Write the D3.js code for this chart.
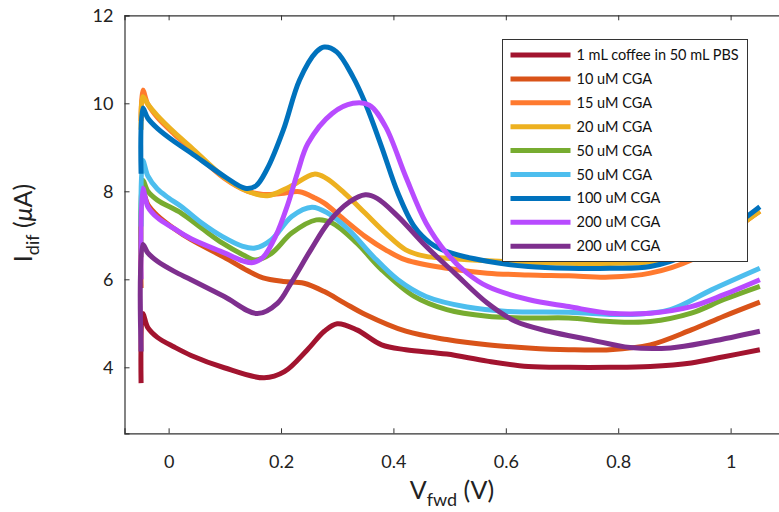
<!DOCTYPE html>
<html>
<head>
<meta charset="utf-8">
<script src="https://d3js.org/d3.v7.min.js"></script>
<style>
  body { margin: 0; background: #fff; }
  svg { display: block; font-family: Lato, "Noto Sans", sans-serif; }
  .axis text { font-size: 18px; fill: #222; font-family: Lato, "Noto Sans", sans-serif; }
  .axis path, .axis line { stroke: #333; }
</style>
</head>
<body>
<script>
// series names, colours (legend order)
var seriesNames = ["1 mL coffee in 50 mL PBS", "10 uM CGA", "15 uM CGA", "20 uM CGA",
                   "50 uM CGA", "50 uM CGA", "100 uM CGA", "200 uM CGA", "200 uM CGA"];
var seriesColors = ["#A2142F", "#D95319", "#FF7A2F", "#EDB120",
                    "#77AC30", "#4DBEEE", "#0072BD", "#B84BFF", "#7E2F8E"];

var xTicks = [0, 0.2, 0.4, 0.6, 0.8, 1];
var yTicks = [4, 6, 8, 10, 12];

// [V_fwd, I_dif]
var coffee = [[-0.049,3.64],[-0.046,5.22],[-0.037,4.9],[-0.02,4.68],[0.01,4.46],[0.04,4.27],[0.099,3.99],
  [0.17,3.76],[0.206,3.9],[0.247,4.4],[0.277,4.82],[0.3,4.99],[0.335,4.85],[0.379,4.51],
  [0.422,4.4],[0.495,4.3],[0.567,4.14],[0.64,4.02],[0.712,4.0],[0.785,4.0],[0.857,4.02],[0.93,4.1],
  [0.988,4.24],[1.052,4.4]];
var cga10 = [[-0.049,5.8],[-0.046,8.0],[-0.037,7.7],[-0.02,7.45],[0.01,7.15],[0.04,6.9],[0.099,6.5],
  [0.14,6.2],[0.168,6.03],[0.204,5.95],[0.241,5.91],[0.277,5.72],[0.313,5.46],[0.35,5.2],[0.422,4.82],
  [0.495,4.63],[0.567,4.51],[0.64,4.44],[0.712,4.4],[0.785,4.4],[0.857,4.51],[0.93,4.85],[0.988,5.16],
  [1.052,5.48]];
var cga15 = [[-0.049,9.6],[-0.046,10.3],[-0.037,9.98],[-0.02,9.68],[0.01,9.3],[0.04,8.96],[0.099,8.3],
  [0.141,8.0],[0.168,7.93],[0.2,7.95],[0.233,7.99],[0.26,7.85],[0.277,7.73],[0.313,7.35],[0.35,6.97],
  [0.386,6.67],[0.422,6.44],[0.495,6.25],[0.567,6.14],[0.64,6.1],[0.712,6.08],[0.785,6.05],[0.857,6.14],
  [0.93,6.44],[0.988,6.9],[1.03,7.35],[1.052,7.55]];
var cga20 = [[-0.049,9.4],[-0.046,10.15],[-0.037,9.98],[-0.02,9.72],[0.01,9.34],[0.04,9.0],[0.099,8.32],
  [0.141,8.0],[0.176,7.9],[0.215,8.1],[0.259,8.39],[0.28,8.3],[0.313,7.96],[0.35,7.5],[0.386,7.05],
  [0.422,6.67],[0.458,6.52],[0.495,6.48],[0.567,6.42],[0.64,6.38],[0.785,6.36],[0.857,6.4],[0.93,6.6],
  [0.988,7.0],[1.052,7.55]];
var cga50a = [[-0.049,6.5],[-0.046,8.25],[-0.037,8.0],[-0.02,7.8],[0.023,7.5],[0.059,7.16],[0.096,6.82],
  [0.132,6.56],[0.154,6.44],[0.183,6.59],[0.219,7.05],[0.263,7.35],[0.291,7.28],[0.335,6.82],[0.379,6.22],
  [0.437,5.61],[0.495,5.31],[0.567,5.16],[0.64,5.12],[0.712,5.12],[0.785,5.04],[0.857,5.04],[0.93,5.23],
  [0.988,5.54],[1.052,5.84]];
var cga50b = [[-0.049,7.2],[-0.046,8.7],[-0.037,8.35],[-0.02,8.05],[0,7.85],[0.023,7.65],[0.059,7.28],
  [0.096,6.97],[0.132,6.75],[0.154,6.71],[0.183,6.9],[0.219,7.43],[0.255,7.64],[0.284,7.5],[0.321,7.12],
  [0.364,6.52],[0.408,5.99],[0.458,5.61],[0.531,5.37],[0.603,5.27],[0.712,5.25],[0.821,5.2],[0.893,5.31],
  [0.966,5.76],[1.052,6.25]];
var cga100 = [[-0.049,8.4],[-0.046,9.89],[-0.037,9.66],[-0.02,9.43],[0.01,9.13],[0.04,8.87],[0.099,8.34],
  [0.136,8.07],[0.155,8.12],[0.175,8.5],[0.204,9.39],[0.233,10.53],[0.263,11.17],[0.277,11.28],[0.299,11.17],
  [0.328,10.6],[0.35,10.0],[0.379,9.01],[0.408,7.96],[0.437,7.2],[0.466,6.82],[0.495,6.63],[0.567,6.41],
  [0.64,6.29],[0.712,6.25],[0.785,6.25],[0.857,6.29],[0.93,6.6],[0.988,7.05],[1.052,7.65]];
var cga200a = [[-0.049,6.0],[-0.046,8.07],[-0.037,7.65],[-0.02,7.4],[0.01,7.15],[0.04,6.92],[0.099,6.6],
  [0.132,6.42],[0.15,6.38],[0.168,6.5],[0.19,6.97],[0.212,7.7],[0.23,8.45],[0.248,9.09],[0.291,9.77],
  [0.328,10.0],[0.357,9.96],[0.386,9.47],[0.422,8.33],[0.458,7.28],[0.495,6.59],[0.531,6.14],[0.567,5.84],
  [0.64,5.54],[0.712,5.38],[0.785,5.23],[0.857,5.23],[0.93,5.38],[0.988,5.65],[1.052,5.99]];
var cga200b = [[-0.049,4.36],[-0.046,6.79],[-0.037,6.6],[-0.02,6.41],[0.01,6.18],[0.04,5.99],[0.099,5.61],
  [0.158,5.22],[0.194,5.46],[0.218,5.92],[0.253,6.67],[0.285,7.3],[0.321,7.75],[0.35,7.92],
  [0.371,7.84],[0.408,7.43],[0.458,6.75],[0.509,6.14],[0.567,5.46],[0.618,5.04],[0.676,4.82],[0.749,4.63],
  [0.821,4.45],[0.893,4.44],[0.966,4.59],[1.052,4.82]];

var seriesData = [coffee, cga10, cga15, cga20, cga50a, cga50b, cga100, cga200a, cga200b];

(function() {
  var width = 779, height = 512;
  var left = 124.5, plotTop = 15.3, bottom = 433.3;

  var svg = d3.select("body").append("svg")
      .attr("width", width)
      .attr("height", height);

  var x = d3.scaleLinear().domain([-0.0785, 1.1]).range([left, left + 1.1785 * 562]);
  var y = d3.scaleLinear().domain([2.5, 12]).range([bottom, plotTop]);

  var fmt = function(d) { return d3.format("~g")(d); };

  // box: bottom, top and left with inward ticks
  svg.append("g").attr("class", "axis")
      .attr("transform", "translate(0," + bottom + ")")
      .call(d3.axisBottom(x).tickValues(xTicks).tickSize(-5).tickPadding(22).tickFormat(fmt));
  svg.append("g").attr("class", "axis")
      .attr("transform", "translate(0," + plotTop + ")")
      .call(d3.axisTop(x).tickValues(xTicks).tickSize(-5).tickFormat(""));
  svg.append("g").attr("class", "axis")
      .attr("transform", "translate(" + left + ",0)")
      .call(d3.axisLeft(y).tickValues(yTicks).tickSize(-5).tickPadding(11).tickFormat(fmt));
  svg.selectAll(".axis").attr("font-family", null).attr("font-size", null);
  svg.selectAll(".axis .domain").attr("stroke-width", 1.2);

  var line = d3.line()
      .x(function(d) { return x(d[0]); })
      .y(function(d) { return y(d[1]); })
      .curve(d3.curveCatmullRom.alpha(0.5));

  svg.append("g").selectAll("path")
      .data(seriesData)
      .join("path")
      .attr("d", line)
      .attr("fill", "none")
      .attr("stroke", function(d, i) { return seriesColors[i]; })
      .attr("stroke-width", 5)
      .attr("stroke-linejoin", "round");

  // legend
  var lg = svg.append("g").attr("transform", "translate(502.5,39.5)");
  lg.append("rect").attr("width", 245).attr("height", 222)
      .attr("fill", "#fff").attr("stroke", "#333").attr("stroke-width", 1);
  var rows = lg.selectAll("g.row").data(seriesNames).join("g")
      .attr("class", "row")
      .attr("transform", function(d, i) { return "translate(0," + (15.5 + i * 23.9) + ")"; });
  rows.append("line").attr("x1", 8).attr("x2", 68)
      .attr("stroke", function(d, i) { return seriesColors[i]; })
      .attr("stroke-width", 5);
  rows.append("text").attr("x", 74).attr("dy", "0.35em")
      .attr("font-size", 14.5).attr("fill", "#111")
      .text(function(d) { return d; });

  // axis labels
  var xl = svg.append("text").attr("x", 452).attr("y", 499)
      .attr("text-anchor", "middle").attr("font-size", 25).attr("fill", "#222");
  xl.append("tspan").text("V");
  xl.append("tspan").attr("dy", 7).attr("font-size", 18).text("fwd");
  xl.append("tspan").attr("dy", -7).text(" (V)");

  var yl = svg.append("text").attr("transform", "translate(32,223) rotate(-90)")
      .attr("text-anchor", "middle").attr("font-size", 25).attr("fill", "#222");
  yl.append("tspan").text("I");
  yl.append("tspan").attr("dy", 7).attr("font-size", 18).text("dif");
  yl.append("tspan").attr("dy", -7).text(" (");
  yl.append("tspan").attr("font-style", "italic").text("μ");
  yl.append("tspan").text("A)");
})();
</script>
</body>
</html>
